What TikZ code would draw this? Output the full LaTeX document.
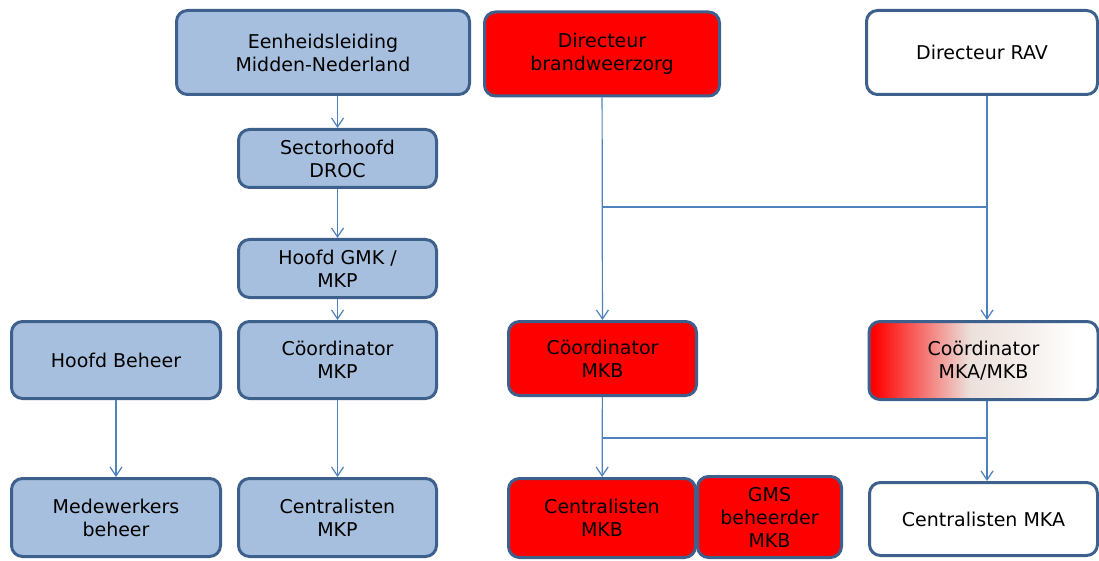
\documentclass[tikz,border=0pt]{standalone}
\usepackage{fontspec}
\setmainfont{DejaVu Sans}
\usetikzlibrary{arrows.meta}
\definecolor{boxblue}{RGB}{167,191,222}
\definecolor{boxline}{RGB}{62,96,141}
\definecolor{linkblue}{RGB}{79,129,189}
\definecolor{fadebeige}{RGB}{236,224,219}
\pgfdeclarehorizontalshading{redfade}{100bp}{color(0bp)=(red); color(26bp)=(red); color(47bp)=(fadebeige); color(59bp)=(fadebeige!55!white); color(70bp)=(white); color(100bp)=(white)}

\begin{document}
\begin{tikzpicture}[x=1pt,y=-1pt,
	main node/.style = {rectangle,draw=boxline,line width=3pt,rounded corners=11pt,
		align=center,inner sep=0pt,font=\fontsize{19}{23}\selectfont},
	link/.style = {draw=linkblue,line width=1.2pt},
	>={Straight Barb[length=9pt,width=12pt]}]
	
	\useasboundingbox (0,0) rectangle (1099,561);
	
	\node[main node,fill=boxblue,minimum width=293,minimum height=84] (1) at (323,52.5) {Eenheidsleiding\\Midden-Nederland};
	\node[main node,fill=red,minimum width=235,minimum height=84] (2) at (602,54) {Directeur\\brandweerzorg};
	\node[main node,fill=white,minimum width=231,minimum height=84] (3) at (982,52.5) {Directeur RAV};
	\node[main node,fill=boxblue,minimum width=198,minimum height=58] (4) at (337.5,158.5) {Sectorhoofd\\DROC};
	\node[main node,fill=boxblue,minimum width=198,minimum height=58] (5) at (337.5,268.5) {Hoofd GMK /\\MKP};
	\node[main node,fill=boxblue,minimum width=209,minimum height=77] (6) at (116,360) {Hoofd Beheer};
	\node[main node,fill=boxblue,minimum width=198,minimum height=77] (7) at (337.5,360) {Cöordinator\\MKP};
	\node[main node,fill=red,minimum width=188,minimum height=74] (8) at (602.5,358.5) {Cöordinator\\MKB};
	\node[main node,shade,shading=redfade,minimum width=229,minimum height=78] (9) at (983.5,360.5) {Coördinator\\MKA/MKB};
	\node[main node,fill=boxblue,minimum width=209,minimum height=78] (10) at (116,517.5) {Medewerkers\\beheer};
	\node[main node,fill=boxblue,minimum width=198,minimum height=78] (11) at (337.5,517.5) {Centralisten\\MKP};
	\node[main node,fill=red,minimum width=187,minimum height=79] (12) at (602,518) {Centralisten\\MKB};
	\node[main node,fill=red,minimum width=144,minimum height=81] (13) at (769.5,517) {GMS\\beheerder\\MKB};
	\node[main node,fill=white,minimum width=228,minimum height=73] (14) at (983.5,519) {Centralisten MKA};
	
	\coordinate (b1) at (987,207);
	\coordinate (b2) at (987,438);
	
	% left column
	\draw[link,->] (4 |- 1.south) -- (4.north);
	\draw[link,->] (4) -- (5);
	\draw[link,->] (5) -- (7);
	\draw[link,->] (6) -- (10);
	\draw[link,->] (7) -- (11);
	
	% right part
	\draw[link,->] (2) -- (8);
	\draw[link] (2 |- b1) -- (b1);
	\draw[link,->] (3.south -| b1) -- (9.north -| b1);
	\draw[link,->] (8) -- (12);
	\draw[link] (8 |- b2) -- (b2);
	\draw[link,->] (9.south -| b2) -- (14.north -| b2);
	
\end{tikzpicture}
\end{document}
